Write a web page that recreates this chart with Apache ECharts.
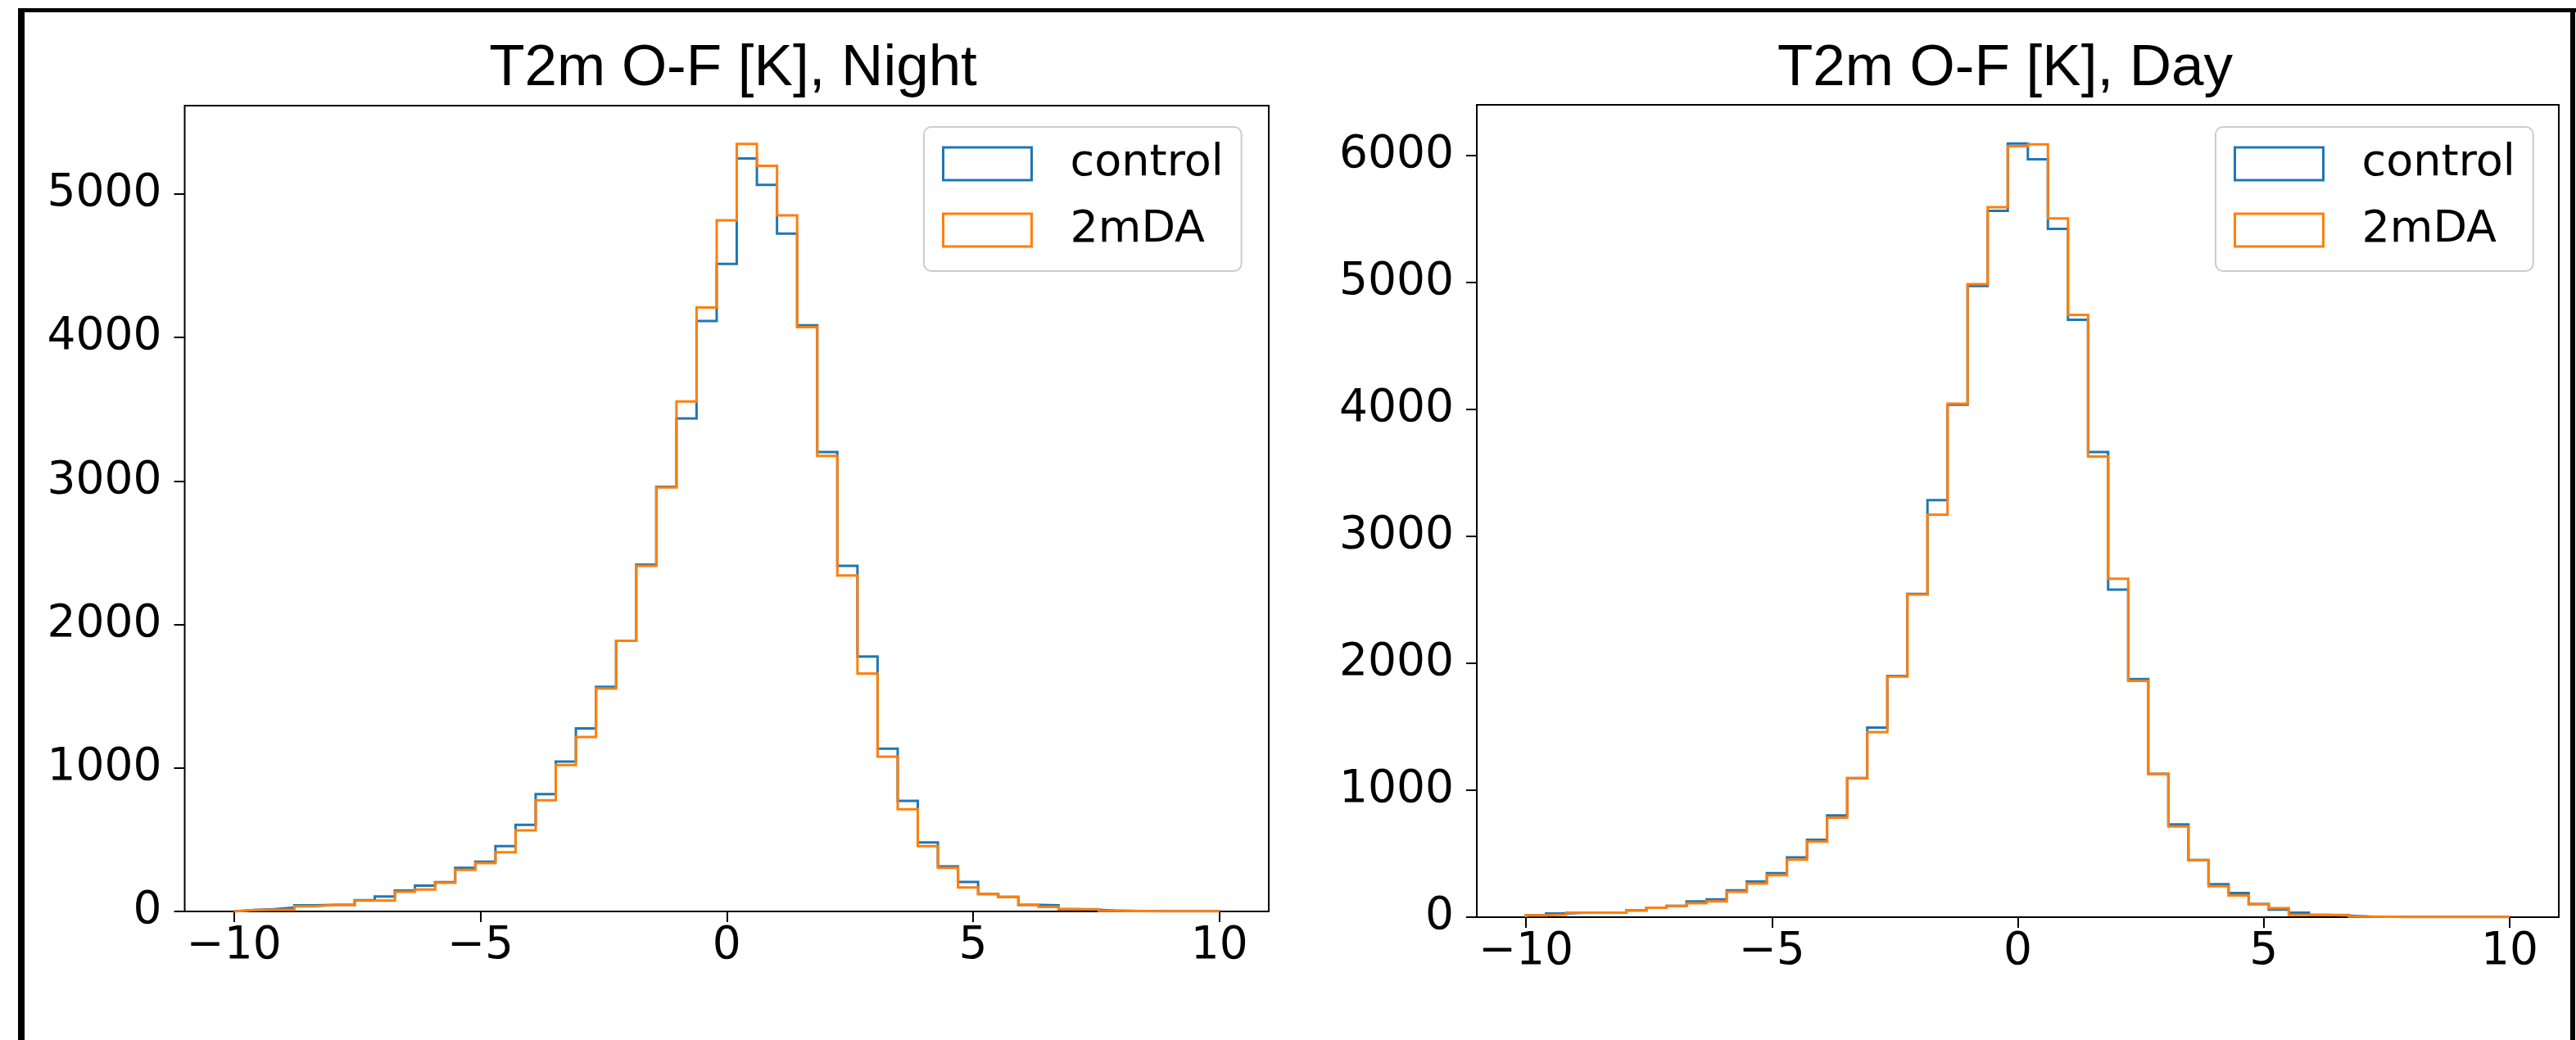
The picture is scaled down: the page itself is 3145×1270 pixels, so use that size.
<!DOCTYPE html>
<html>
<head>
<meta charset="utf-8">
<script src="https://cdn.jsdelivr.net/npm/echarts@6/dist/echarts.min.js"></script>
<style>
html,body{margin:0;padding:0;background:#fff;}
#chart{width:3145px;height:1270px;}
</style>
</head>
<body>
<div id="chart"></div>
<script>
// Histogram bin edges (49 bins from -10 to 10)
const binEdges = [-10, -9.5918, -9.1837, -8.7755, -8.3673, -7.9592, -7.5510, -7.1429, -6.7347, -6.3265,
  -5.9184, -5.5102, -5.1020, -4.6939, -4.2857, -3.8776, -3.4694, -3.0612, -2.6531, -2.2449,
  -1.8367, -1.4286, -1.0204, -0.6122, -0.2041, 0.2041, 0.6122, 1.0204, 1.4286, 1.8367,
  2.2449, 2.6531, 3.0612, 3.4694, 3.8776, 4.2857, 4.6939, 5.1020, 5.5102, 5.9184,
  6.3265, 6.7347, 7.1429, 7.5510, 7.9592, 8.3673, 8.7755, 9.1837, 9.5918, 10];

const seriesNames = ['control', '2mDA'];
const panelTitles = ['T2m O-F [K], Night', 'T2m O-F [K], Day'];

const nightControl = [10, 16, 27, 43, 45, 46, 78, 104, 145, 180,
  204, 304, 347, 455, 604, 818, 1044, 1275, 1566, 1887,
  2417, 2960, 3436, 4116, 4513, 5249, 5064, 4724, 4085, 3202,
  2409, 1776, 1134, 771, 481, 314, 206, 122, 102, 45,
  43, 16, 12, 5, 3, 2, 1, 1, 1];
const night2mDA = [10, 12, 12, 35, 45, 45, 75, 75, 137, 153,
  200, 290, 337, 412, 565, 775, 1020, 1216, 1554, 1887,
  2409, 2955, 3555, 4209, 4817, 5349, 5197, 4851, 4072, 3175,
  2341, 1658, 1079, 712, 455, 304, 167, 122, 102, 45,
  31, 16, 16, 4, 3, 2, 1, 1, 1];
const dayControl = [14, 29, 35, 35, 35, 53, 74, 88, 124, 141,
  212, 280, 347, 471, 609, 801, 1095, 1493, 1899, 2547,
  3285, 4036, 4972, 5563, 6094, 5970, 5421, 4706, 3664, 2580,
  1875, 1128, 730, 450, 259, 191, 103, 59, 35, 18,
  12, 5, 3, 2, 2, 1, 1, 1, 1];
const day2mDA = [15, 20, 35, 35, 35, 53, 74, 88, 109, 124,
  200, 265, 330, 453, 595, 783, 1095, 1457, 1895, 2541,
  3170, 4045, 4986, 5592, 6073, 6088, 5504, 4745, 3628, 2665,
  1861, 1128, 715, 450, 244, 171, 103, 71, 18, 18,
  18, 5, 3, 2, 2, 1, 1, 1, 1];

const xTicks = [-10, -5, 0, 5, 10];
const yTicksNight = [0, 1000, 2000, 3000, 4000, 5000];
const yTicksDay = [0, 1000, 2000, 3000, 4000, 5000, 6000];

const COLORS = ['#1f77b4', '#ff7f0e'];
const TICK_FONT = 'DejaVu Sans';

function stepData(vals) {
  const pts = [[binEdges[0], 0]];
  for (let i = 0; i < vals.length; i++) pts.push([binEdges[i], vals[i]]);
  pts.push([binEdges[vals.length], vals[vals.length - 1]]);
  pts.push([binEdges[vals.length], 0]);
  return pts;
}

const grids = [
  {left: 225.5, top: 129, width: 1323.5, height: 984},
  {left: 1803, top: 128, width: 1321, height: 992}
];

function xAxisFor(i) {
  return {
    type: 'value', gridIndex: i, min: -11, max: 11,
    splitLine: {show: false},
    axisLine: {show: false, onZero: false},
    axisTick: {show: true, customValues: xTicks, length: 13, lineStyle: {color: '#000', width: 2}},
    axisLabel: {show: true, customValues: xTicks, margin: 15, color: '#000',
      fontFamily: TICK_FONT, fontSize: 55,
      formatter: v => String(v).replace('-', '\u2212')}
  };
}
function yAxisFor(i, ticks, maxVal) {
  return {
    type: 'value', gridIndex: i, min: 0, max: maxVal * 1.05,
    splitLine: {show: false},
    axisLine: {show: false, onZero: false},
    axisTick: {show: true, customValues: ticks, length: 13, lineStyle: {color: '#000', width: 2}},
    axisLabel: {show: true, customValues: ticks, margin: 28, color: '#000',
      fontFamily: TICK_FONT, fontSize: 55, formatter: v => String(v)}
  };
}

const nightMax = Math.max(...nightControl, ...night2mDA);
const dayMax = Math.max(...dayControl, ...day2mDA);

function mkSeries(name, vals, idx, color) {
  return {
    name: name, type: 'line', step: 'end', symbol: 'none',
    xAxisIndex: idx, yAxisIndex: idx,
    data: stepData(vals),
    lineStyle: {color: color, width: 3, join: 'miter'},
    itemStyle: {color: color},
    emphasis: {disabled: true},
    animation: false
  };
}

function legendFor(left) {
  return {
    orient: 'vertical', left: left, top: 155,
    itemWidth: 108, itemHeight: 40, itemGap: 21,
    padding: [15, 22, 20, 22],
    backgroundColor: 'rgba(255,255,255,0.8)',
    borderColor: '#cccccc', borderWidth: 2, borderRadius: 9,
    selectedMode: false,
    textStyle: {fontFamily: TICK_FONT, fontSize: 54, color: '#000', lineHeight: 60, padding: [0, 0, 0, 42]},
    data: seriesNames.map((n, k) => ({
      name: n, icon: 'rect',
      itemStyle: {color: 'rgba(0,0,0,0)', borderColor: COLORS[k], borderWidth: 3}
    }))
  };
}

const option = {
  backgroundColor: '#fff',
  animation: false,
  grid: grids.map(g => Object.assign({show: true, borderColor: '#000', borderWidth: 2, backgroundColor: '#fff'}, g)),
  xAxis: [xAxisFor(0), xAxisFor(1)],
  yAxis: [yAxisFor(0, yTicksNight, nightMax), yAxisFor(1, yTicksDay, dayMax)],
  legend: [legendFor(1128), legendFor(2705)],
  series: [
    mkSeries(seriesNames[0], nightControl, 0, COLORS[0]),
    mkSeries(seriesNames[1], night2mDA, 0, COLORS[1]),
    mkSeries(seriesNames[0], dayControl, 1, COLORS[0]),
    mkSeries(seriesNames[1], day2mDA, 1, COLORS[1])
  ],
  graphic: [
    {type: 'text', x: 895, y: 84, style: {text: panelTitles[0], font: '71px "Liberation Sans"', fill: '#000', textAlign: 'center', textVerticalAlign: 'middle'}},
    {type: 'text', x: 2448, y: 84, style: {text: panelTitles[1], font: '71px "Liberation Sans"', fill: '#000', textAlign: 'center', textVerticalAlign: 'middle'}},
    {type: 'line', shape: {x1: 26, y1: 10, x2: 26, y2: 1280}, style: {stroke: '#000', lineWidth: 8}},
    {type: 'line', shape: {x1: 22, y1: 12.5, x2: 3145, y2: 12.5}, style: {stroke: '#000', lineWidth: 5}},
    {type: 'line', shape: {x1: 3141, y1: 10, x2: 3141, y2: 1280}, style: {stroke: '#000', lineWidth: 6}}
  ]
};

const chart = echarts.init(document.getElementById('chart'), null, {renderer: 'canvas'});
chart.setOption(option);
</script>
</body>
</html>
